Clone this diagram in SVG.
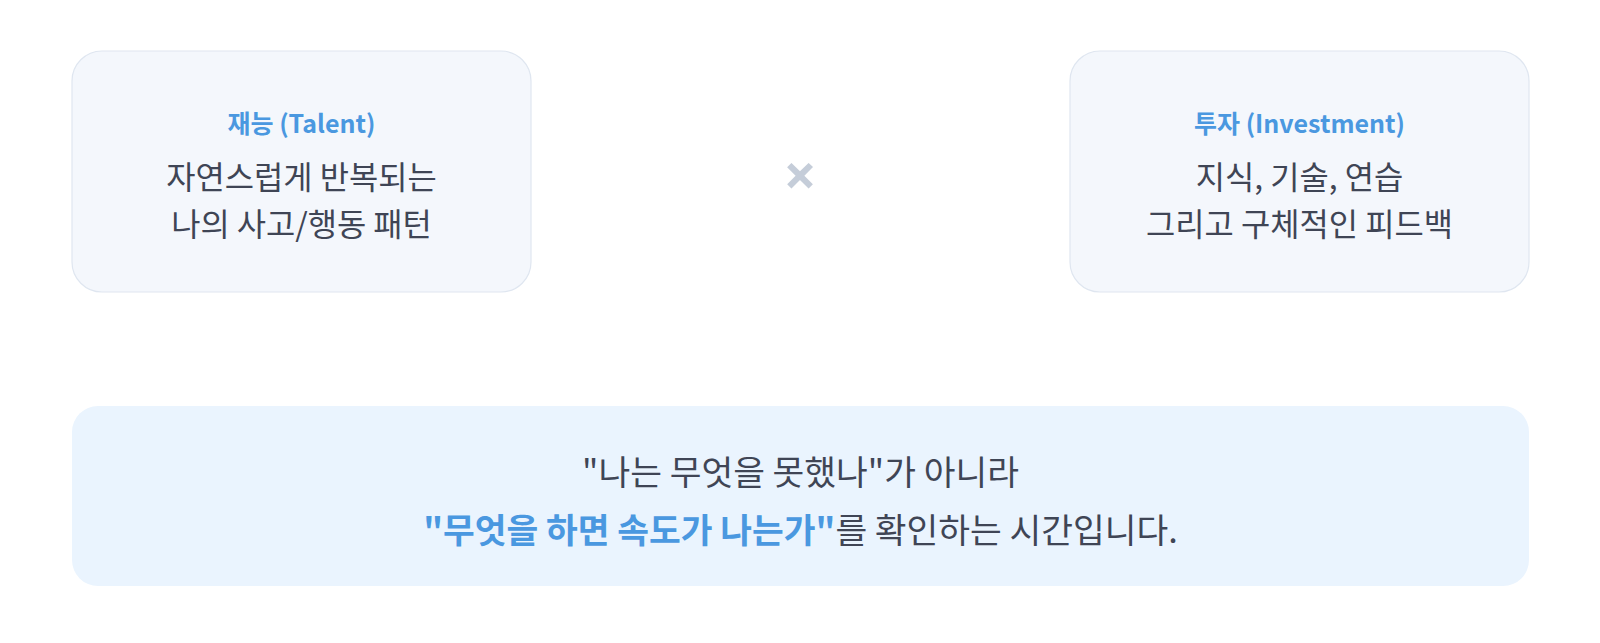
<svg xmlns="http://www.w3.org/2000/svg" width="1600" height="643" viewBox="0 0 1600 643">
<style>
.card{fill:#f4f7fc;stroke:#dfe6f0;stroke-width:1.2}
.title{font-family:"Noto Sans CJK KR","Noto Sans",sans-serif;font-weight:700;font-size:25px;fill:#4a98e0;text-anchor:middle}
.body{font-family:"Noto Sans CJK KR","Noto Sans",sans-serif;font-weight:400;font-size:31.8px;fill:#3f4555;text-anchor:middle}
.sum{font-family:"Noto Sans CJK KR","Noto Sans",sans-serif;font-weight:400;font-size:34.5px;fill:#3f4555;text-anchor:middle}
.hl{font-weight:700;fill:#4a98e0}
</style>
<rect width="1600" height="643" fill="#ffffff"/>
<g id="talent">
<rect class="card" x="72" y="51" width="459" height="241" rx="30"/>
<text class="title" x="301.5" y="133">재능 (Talent)</text>
<text class="body" x="301.5" y="189">자연스럽게 반복되는</text>
<text class="body" x="301.5" y="236">나의 사고/행동 패턴</text>
</g>
<g id="times">
<text x="800" y="196" font-family="'Noto Sans',sans-serif" font-weight="700" font-size="58" fill="#c5cdd9" text-anchor="middle">×</text>
</g>
<g id="investment">
<rect class="card" x="1070" y="51" width="459" height="241" rx="30"/>
<text class="title" x="1299.5" y="133">투자 (Investment)</text>
<text class="body" x="1299.5" y="189">지식, 기술, 연습</text>
<text class="body" x="1299.5" y="236">그리고 구체적인 피드백</text>
</g>
<g id="summary">
<rect x="72" y="406" width="1457" height="180" rx="26" fill="#eaf4fe"/>
<text class="sum" x="800.5" y="485">"나는 무엇을 못했나"가 아니라</text>
<text class="sum" x="800.5" y="543"><tspan class="hl">"무엇을 하면 속도가 나는가"</tspan>를 확인하는 시간입니다.</text>
</g>
<g id="connectors"></g>
</svg>
